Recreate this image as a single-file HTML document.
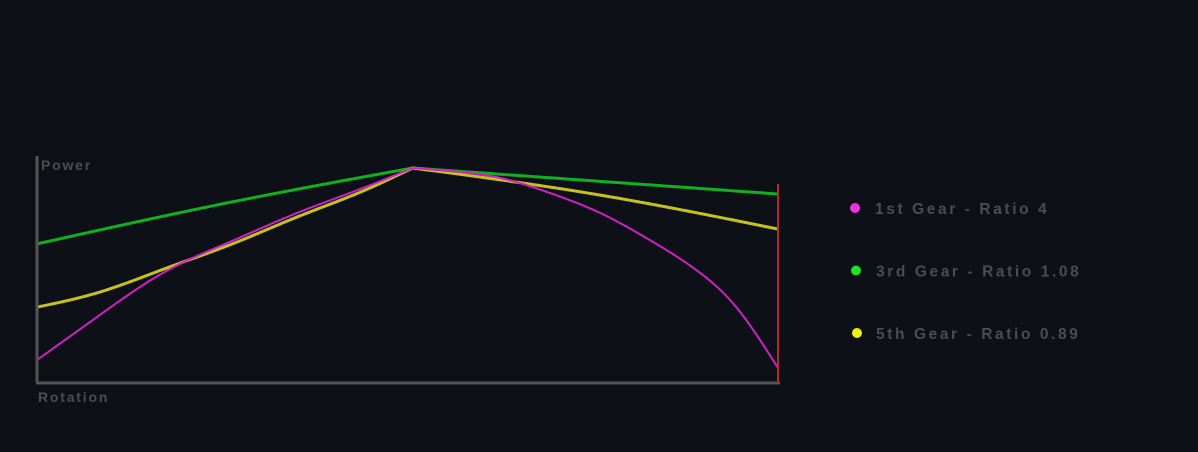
<!DOCTYPE html>
<html><head><meta charset="utf-8"><style>
html,body{margin:0;padding:0;background:#0d1017;}
svg{display:block}
text{font-family:"Liberation Sans",sans-serif;font-weight:bold;fill:#4d4d50;}
</style></head><body>
<svg width="1198" height="452">
<rect width="1198" height="452" fill="#0d1017"/>
<g id="plot"></g>
<line x1="37" y1="156" x2="37" y2="383" stroke="#555" stroke-width="3"/>
<line x1="36" y1="383" x2="780" y2="383" stroke="#555" stroke-width="3"/>
<line x1="778" y1="184" x2="778" y2="383" stroke="#b22a2a" stroke-width="2"/>
<text x="41" y="170" font-size="14" letter-spacing="1.8">Power</text>
<text x="38" y="402" font-size="14" letter-spacing="1.8">Rotation</text>
<g id="legend"></g>
</svg>
<script>
const rpm1=[0,8.1,17,26,35.1,44,50.7,56,62.5,69.2,76,82.7,89.5,93.9,100];
const gear1=[0.107,0.307,0.512,0.656,0.791,0.907,1,0.985,0.954,0.884,0.791,0.665,0.512,0.372,0.07];
const rpm3=[0,26,50.7,100];
const gear3=[0.647,0.84,1,0.879];
const rpm5=[0,8.1,17.9,26,35.1,44,50.7,76,100];
const gear5=[0.353,0.419,0.540,0.642,0.772,0.893,1,0.874,0.716];
const seriesNames=["1st Gear - Ratio 4","3rd Gear - Ratio 1.08","5th Gear - Ratio 0.89"];
const colors=["#d020c8","#10b020","#c8c020"];
const dotColors=["#f030e8","#20e020","#f0f010"];
const PEAK=50.7;
const X=v=>37+v/100*741;
const Y=v=>383-v*215;
const NS="http://www.w3.org/2000/svg";
const plot=document.getElementById('plot');
function spline(xs,ys){
  const n=xs.length;
  if(n<3) return t=>ys[0]+(ys[1]-ys[0])*(t-xs[0])/(xs[1]-xs[0]);
  const h=[],a=[],l=[1],mu=[0],z=[0],c=new Array(n).fill(0),b=[],d=[];
  for(let i=0;i<n-1;i++) h.push(xs[i+1]-xs[i]);
  for(let i=1;i<n-1;i++) a[i]=3/h[i]*(ys[i+1]-ys[i])-3/h[i-1]*(ys[i]-ys[i-1]);
  for(let i=1;i<n-1;i++){
    l[i]=2*(xs[i+1]-xs[i-1])-h[i-1]*mu[i-1];
    mu[i]=h[i]/l[i];
    z[i]=(a[i]-h[i-1]*z[i-1])/l[i];
  }
  z[n-1]=0;
  for(let j=n-2;j>=0;j--){
    c[j]=z[j]-mu[j]*c[j+1];
    b[j]=(ys[j+1]-ys[j])/h[j]-h[j]*(c[j+1]+2*c[j])/3;
    d[j]=(c[j+1]-c[j])/(3*h[j]);
  }
  return t=>{
    let j=0;while(j<n-2&&t>xs[j+1])j++;
    const dx=t-xs[j];
    return ys[j]+b[j]*dx+c[j]*dx*dx+d[j]*dx*dx*dx;
  };
}
function curve(xs,ys){
  const k=xs.indexOf(PEAK);
  const parts=[[xs.slice(0,k+1),ys.slice(0,k+1)],[xs.slice(k),ys.slice(k)]];
  let pts=[];
  parts.forEach(([px,py])=>{
    const f=spline(px,py);
    const x0=px[0],x1=px[px.length-1];
    for(let t=x0;t<=x1+1e-9;t+=0.25) pts.push([X(t),Y(f(t))]);
  });
  return "M"+pts.map(p=>p[0].toFixed(2)+","+p[1].toFixed(2)).join(" L");
}
const all=[[rpm3,gear3,1],[rpm5,gear5,2],[rpm1,gear1,0]];
all.forEach(([xs,ys,k])=>{
  const path=document.createElementNS(NS,'path');
  path.setAttribute('d',curve(xs,ys));
  path.setAttribute('fill','none');
  path.setAttribute('stroke',colors[k]);
  path.setAttribute('stroke-width',k===0?2:3);
  path.setAttribute('stroke-linejoin','round');
  
  
  plot.appendChild(path);
});
const legend=document.getElementById('legend');
seriesNames.forEach((n,i)=>{
  const y=208+i*62.5;
  const c=document.createElementNS(NS,'circle');
  c.setAttribute('cx',855+i*1);c.setAttribute('cy',y);c.setAttribute('r',5);
  c.setAttribute('fill',dotColors[i]);
  
  
  legend.appendChild(c);
  const t=document.createElementNS(NS,'text');
  t.setAttribute('x',875+(i?1:0));t.setAttribute('y',y+6);
  t.setAttribute('font-size','15.5');t.setAttribute('letter-spacing','2.6');
  t.textContent=n;
  
  
  legend.appendChild(t);
});
</script>
</body></html>
